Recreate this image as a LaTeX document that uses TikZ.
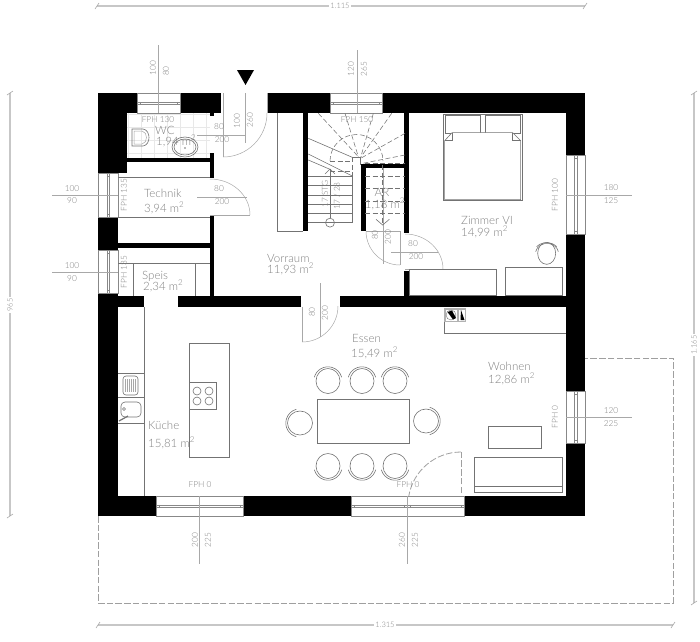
\documentclass[tikz,border=0pt]{standalone}
\usepackage{fontspec}
\setmainfont{Lato}[UprightFont=* Light,BoldFont=*]
\usetikzlibrary{arrows.meta}
\definecolor{txtc}{gray}{0.5}
\definecolor{linec}{gray}{0.45}
\definecolor{dimc}{gray}{0.66}
\definecolor{outc}{gray}{0.78}
\tikzset{
  wall/.style={fill=black,draw=none},
  ln/.style={draw=linec,line width=0.6pt},
  lnthin/.style={draw=dimc,line width=0.5pt},
  winln/.style={draw=linec!85,line width=0.4pt},
  dimline/.style={draw=dimc,line width=0.6pt},
  outdim/.style={draw=outc,line width=1.1pt},
  dashln/.style={draw=gray!75,line width=0.9pt,dash pattern=on 6.5pt off 2.2pt},
  stairdash/.style={draw=linec,line width=0.55pt,dash pattern=on 5pt off 2.5pt},
  room/.style={text=txtc,font=\fontsize{11.5}{12}\selectfont,inner sep=0pt,anchor=west},
  small/.style={text=txtc,font=\fontsize{8.3}{9}\selectfont,inner sep=0pt},
  outlabel/.style={text=txtc,font=\fontsize{7.5}{9}\selectfont,fill=white,inner sep=1.5pt},
}
\newcommand{\hwin}[4]{% x1 x2 y1 y2
  \fill[white] (#1,#3) rectangle (#2,#4);
  \draw[winln] (#1,#3) rectangle (#2,#4);
  \draw[winln] (#1,{(#3+#4)/2-1.2}) -- (#2,{(#3+#4)/2-1.2});
  \draw[winln] (#1,{(#3+#4)/2+1.2}) -- (#2,{(#3+#4)/2+1.2});
  \draw[winln] ({#1+3},{(#3+#4)/2-1.2}) -- ({#1+3},{(#3+#4)/2+1.2});
  \draw[winln] ({#2-3},{(#3+#4)/2-1.2}) -- ({#2-3},{(#3+#4)/2+1.2});}
\newcommand{\vwin}[4]{% x1 x2 y1 y2
  \fill[white] (#1,#3) rectangle (#2,#4);
  \draw[winln] (#1,#3) rectangle (#2,#4);
  \draw[winln] ({(#1+#2)/2-1.2},#3) -- ({(#1+#2)/2-1.2},#4);
  \draw[winln] ({(#1+#2)/2+1.2},#3) -- ({(#1+#2)/2+1.2},#4);
  \draw[winln] ({(#1+#2)/2-1.2},{#3+3}) -- ({(#1+#2)/2+1.2},{#3+3});
  \draw[winln] ({(#1+#2)/2-1.2},{#4-3}) -- ({(#1+#2)/2+1.2},{#4-3});}
% chair: centre x, y, backrest direction angle
\newcommand{\chairat}[3]{%
  \begin{scope}[shift={(#1,#2)},rotate=#3]
    \draw[ln] (0,0) circle[x radius=12.5pt,y radius=12pt];
    \draw[ln] (75:14.2pt) arc[start angle=75,end angle=-75,radius=14.2pt];
  \end{scope}}
\begin{document}
\begin{tikzpicture}[x=1pt,y=-1pt]
\useasboundingbox (0,0) rectangle (700,641);
% terrace
\draw[dashln] (98,516) -- (98,603) -- (673,603) -- (673,358) -- (585,358);
% outside dimensions
\draw[outdim] (97,6) -- (585,6);
\draw[dimc,line width=0.6pt] (95,9) -- (99,3) (583,9) -- (587,3);
\node[outlabel] (topdim) at (340,6) {1.115};
\draw[outdim] (98,625) -- (673,625);
\draw[dimc,line width=0.6pt] (96,628) -- (100,622) (671,628) -- (675,622);
\node[outlabel] (botdim) at (385,625) {1.315};
\draw[outdim] (10,93) -- (10,516);
\draw[dimc,line width=0.6pt] (7,95) -- (13,91) (7,518) -- (13,514);
\node[outlabel,rotate=90] (leftdim) at (10,305) {965};
\draw[outdim] (694,93) -- (694,603);
\draw[dimc,line width=0.6pt] (691,95) -- (697,91) (691,605) -- (697,601);
\node[outlabel,rotate=90] (rightdim) at (694,345) {1.165};
% tiles
\begin{scope}
  \clip (127,113) rectangle (210,158);
  \foreach \i in {0,...,7} \draw[gray!18,line width=0.4pt] ({128+13*\i},113) -- ({128+13*\i},158);
  \foreach \i in {0,...,4} \draw[gray!18,line width=0.4pt] (127,{114+13*\i}) -- (210,{114+13*\i});
\end{scope}
% walls
\fill[wall] (98,93) rectangle (585,113);
\fill[wall] (98,93) rectangle (127,173);
\fill[wall] (98,173) rectangle (118,516);
\fill[wall] (98,496) rectangle (585,516);
\fill[wall] (566,93) rectangle (585,516);
\fill[wall] (127,158) rectangle (214,162);
\fill[wall] (210,113) rectangle (214,116);
\fill[wall] (210,153) rectangle (214,162);
\fill[wall] (210,162) rectangle (214,178);
\fill[wall] (210,216) rectangle (214,296);
\fill[wall] (118,243) rectangle (214,248);
\fill[wall] (118,296) rectangle (144,307);
\fill[wall] (178,296) rectangle (301,307);
\fill[wall] (340,296) rectangle (566,307);
\fill[wall] (303,113) rectangle (308,231);
\fill[wall] (404,113) rectangle (409,233);
\fill[wall] (404,271) rectangle (409,296);
\fill[wall] (361,164) rectangle (366,231);
\fill[wall] (361,164) rectangle (409,168);
% openings and windows
\fill[white] (221,93) rectangle (268,113);
\hwin{137}{180}{93}{113}
\hwin{330}{382}{93}{113}
\hwin{156}{243}{496}{516}
\hwin{351}{407}{496}{516}
\hwin{407}{464}{496}{516}
\vwin{98}{118}{173}{217}
\vwin{98}{118}{250}{293}
\vwin{566}{585}{155}{234}
\vwin{566}{585}{391}{443}
% WC door
\draw[lnthin] (223,93) -- (223,157);
\draw[lnthin] (267,113) arc[start angle=0,end angle=-90,radius=44pt];
\draw[lnthin] (267,93) -- (267,113);
\draw[dimline] (245,93) -- (245,143);
\draw[dimline] (197,135) -- (245,135);
\fill[black] (237,70) -- (254,70) -- (245.5,85) -- cycle;
% Technik door
\draw[lnthin] (210,215) -- (250,215);
\draw[lnthin] (210,179) arc[start angle=90,end angle=0,x radius=40pt,y radius=36pt];
\draw[dimline] (197,197) -- (247,197);
% AR door
\draw[lnthin] (366,231) -- (400,231) -- (400,265);
\draw[lnthin] (400,265) arc[start angle=-90,end angle=-180,radius=34pt];
\draw[dimline] (383,168) -- (383,264);
% Zimmer door
\draw[lnthin] (405,234) arc[start angle=90,end angle=0,x radius=38pt,y radius=35pt];
\draw[dimline] (391,252) -- (438,252);
\draw[lnthin] (405,269) -- (409,269);
% Vorraum door
\draw[lnthin] (302,307) -- (302,342);
\draw[lnthin] (302,342) arc[start angle=-90,end angle=0,radius=36pt];
\draw[dimline] (320,283) -- (320,337);
% terrace door
\draw[dashln,line width=0.8pt] (461,493) -- (461,452);
\draw[dashln,line width=0.8pt] (461,452) arc[start angle=90,end angle=170,radius=53pt];
% window dim lines
\draw[dimline] (158,45) -- (158,113);
\draw[dimline] (357,50) -- (357,113);
\draw[dimline] (52,195) -- (118,195);
\draw[dimline] (52,272) -- (118,272);
\draw[dimline] (566,195) -- (632,195);
\draw[dimline] (566,417) -- (632,417);
\draw[dimline] (199,496) -- (199,564);
\draw[dimline] (407,496) -- (407,564);
% Technik and Speis fittings
\draw[ln] (118,177) -- (210,177);
\draw[ln] (118,217) -- (210,217);
\draw[ln] (118,263) -- (210,263);
\draw[ln] (133,263) -- (133,296);
\draw[ln] (195,263) -- (195,296);
% cupboard Vorraum
\draw[ln] (277,113) -- (277,231) -- (303,231);
% WC fittings
\draw[ln] (132,129) -- (143,129) .. controls (151,130) and (151,145) .. (143,146) -- (132,146) -- cycle;
\draw[lnthin] (134,131) -- (142,131) .. controls (148,132) and (148,143) .. (142,144) -- (134,144) -- cycle;
\draw[ln] (185,147) circle[x radius=13pt,y radius=10pt];
\draw[ln] (185,147) circle[x radius=11pt,y radius=8pt];
\fill[linec] (185,148) circle[radius=0.8pt];
% stairs, coordinates in 3x zoom units
\begin{scope}[shift={(290,50)},x=0.33333pt,y=-0.33333pt]
  \draw[ln] (55,378) -- (187,378) (55,405) -- (187,405) (55,435) -- (187,435)
     (55,462) -- (187,462) (55,490) -- (187,490) (55,518) -- (187,518);
  \draw[ln] (187,378) -- (187,518);
  \draw[ln] (55,265) -- (187,322) (55,312) -- (187,378) (55,330) -- (120,358);
  \draw[stairdash] (85,190) -- (205,320) (165,190) -- (205,320) (305,190) -- (212,322)
     (250,190) -- (212,322) (345,250) -- (212,325) (345,315) -- (218,340);
  \draw[stairdash] (120,333) arc[start angle=180,end angle=0,radius=26.5pt];
  \draw[stairdash] (120,333) -- (187,333) (120,365) -- (187,365) (187,322) -- (187,378);
  \draw[stairdash] (225,340) -- (345,340);
  \draw[stairdash] (225,380) -- (345,380) (225,415) -- (345,415) (225,455) -- (345,455) (225,490) -- (345,490);
  \draw[stairdash] (278,345) -- (278,525);
  \draw[ln] (258,508) -- (278,525) -- (298,508);
  \draw[ln] (120,505) -- (120,357);
  \draw[ln] (105,372) -- (120,357) -- (135,372);
  \draw[ln] (120,518) circle[radius=4.5pt];
  \draw[ln] (187,322) -- (212,322) (212,322) -- (212,345);
\end{scope}
% bed
\begin{scope}[shift={(290,50)},x=0.33333pt,y=-0.33333pt]
  \draw[ln,line width=1pt] (460,192) rectangle (697,452);
  \draw[ln] (467,197) rectangle (570,250);
  \draw[ln] (585,197) rectangle (690,250);
  \draw[ln,fill=white] (464,272) -- (486,248) -- (668,248) -- (692,272) -- (692,449) -- (464,449) -- cycle;
  \draw[ln] (486,248) -- (486,272) -- (464,272);
  \draw[ln] (668,248) -- (668,272) -- (692,272);
  % cabinets
  \draw[ln] (357,658) rectangle (618,737);
  \draw[ln] (647,652) rectangle (818,737);
  % stool
  \draw[ln] (770,610) circle[x radius=9pt,y radius=11pt];
  \draw[ln] (740,590) arc[start angle=150,end angle=30,x radius=11.5pt,y radius=8pt];
  \draw[ln] (737,605) arc[start angle=170,end angle=10,x radius=11.5pt,y radius=10pt];
\end{scope}
% kitchen
\draw[ln] (144,307) -- (144,496);
\draw[ln] (118,373) -- (144,373) (118,397) -- (144,397) (118,423) -- (144,423);
\draw[ln,rounded corners=3pt] (123,376) rectangle (138,395);
\foreach \i in {0,...,5} \draw[lnthin] ({125.5+\i*2},379) -- ({125.5+\i*2},392);
\draw[ln,rounded corners=4pt] (121,402) rectangle (141,417);
\draw[ln] (124,409) circle[radius=1.5pt];
\draw[linec,line width=1.2pt] (119,421) -- (128,416);
\draw[ln] (189,343) rectangle (229,457);
\draw[ln] (189,382) rectangle (216,409);
\foreach \a/\b in {197/391,209/391,197/401,209/401} \draw[ln] (\a,\b) circle[radius=4pt];
% dining
\draw[ln] (317,399) rectangle (409,443);
\chairat{328}{381}{90}
\chairat{362}{381}{90}
\chairat{395}{381}{90}
\chairat{328}{466}{-90}
\chairat{362}{466}{-90}
\chairat{395}{466}{-90}
\chairat{300}{423}{180}
\chairat{426}{421}{0}
% fireplace and living
\fill[gray!60] (444,308) rectangle (466,322);
\fill[white] (445.5,309.5) rectangle (457,320.5);
\draw[linec] (451,315) circle[radius=5pt];
\fill[black] (447.5,312) -- (452,310.5) -- (456,318) -- (453,319.5) -- cycle;
\fill[white] (458.5,310) rectangle (465,320.5);
\fill[black] (461,310) -- (464.5,320) -- (460.5,320) -- cycle;
\draw[ln] (444,322) -- (444,333) -- (566,333);
\draw[ln] (488,426) rectangle (541,448);
\draw[ln] (474,457) rectangle (562,492);
\draw[ln] (474,486) -- (562,486);
% room labels
\node[room] (wc) at (155,130) {WC};
\node[room] (wca) at (156,141) {1,94 m\textsuperscript{2}};
\node[room] (tech) at (144,193) {Technik};
\node[room] (techa) at (144,208) {3,94 m\textsuperscript{2}};
\node[room] (speis) at (142,276) {Speis};
\node[room] (speisa) at (143,286) {2,34 m\textsuperscript{2}};
\node[room] (vor) at (267,258) {Vorraum};
\node[room] (vora) at (267,269) {11,93 m\textsuperscript{2}};
\node[room,anchor=center] (ar) at (382,192) {AR};
\node[room,anchor=center] (ara) at (385,204) {1,18 m\textsuperscript{2}};
\node[room] (zim) at (461,220) {Zimmer VI};
\node[room] (zima) at (461,232) {14,99 m\textsuperscript{2}};
\node[room] (ess) at (352,338) {Essen};
\node[room] (essa) at (351,353) {15,49 m\textsuperscript{2}};
\node[room] (woh) at (488,366) {Wohnen};
\node[room] (woha) at (488,379) {12,86 m\textsuperscript{2}};
\node[room] (kue) at (148,425) {Küche};
\node[room] (kuea) at (148,443) {15,81 m\textsuperscript{2}};
% small labels
\node[small] (f1) at (158,120) {FPH 130};
\node[small] (f2) at (357,120) {FPH 150};
\node[small,rotate=90] (f3) at (124,195) {FPH 135};
\node[small,rotate=90] (f4) at (124,272) {FPH 135};
\node[small,rotate=90] (f5) at (555,195) {FPH 100};
\node[small,rotate=90] (f6) at (555,417) {FPH 0};
\node[small] (f7) at (200,485) {FPH 0};
\node[small] (f8) at (408,485) {FPH 0};
\node[small,rotate=90] (d1) at (153,68) {100};
\node[small,rotate=90] (d2) at (166,71) {80};
\node[small,rotate=90] (d3) at (351,69) {120};
\node[small,rotate=90] (d4) at (364,69) {265};
\node[small] (d5) at (72,189) {100};
\node[small] (d6) at (72,201) {90};
\node[small] (d7) at (72,266) {100};
\node[small] (d8) at (72,279) {90};
\node[small] (d9) at (611,188) {180};
\node[small] (d10) at (611,201) {125};
\node[small] (d11) at (611,411) {120};
\node[small] (d12) at (611,424) {225};
\node[small,rotate=90] (d13) at (195,540) {200};
\node[small,rotate=90] (d14) at (208,540) {225};
\node[small,rotate=90] (d15) at (402,540) {260};
\node[small,rotate=90] (d16) at (415,540) {225};
\node[small] (d17) at (219,127) {80};
\node[small] (d18) at (222,140) {200};
\node[small,rotate=90] (d19) at (237,121) {100};
\node[small,rotate=90] (d20) at (250,120) {260};
\node[small] (d21) at (219,189) {80};
\node[small] (d22) at (222,202) {200};
\node[small,rotate=90] (d23) at (375,235) {80};
\node[small,rotate=90] (d24) at (388,237) {200};
\node[small] (d25) at (413,244) {80};
\node[small] (d26) at (416,257) {200};
\node[small,rotate=90] (d27) at (312,312) {80};
\node[small,rotate=90] (d28) at (325,313) {200};
\node[small,rotate=90] (s1) at (325,194) {17 STG};
\node[small,rotate=90] (s2) at (337,196) {17 / 28};
\end{tikzpicture}
\end{document}
